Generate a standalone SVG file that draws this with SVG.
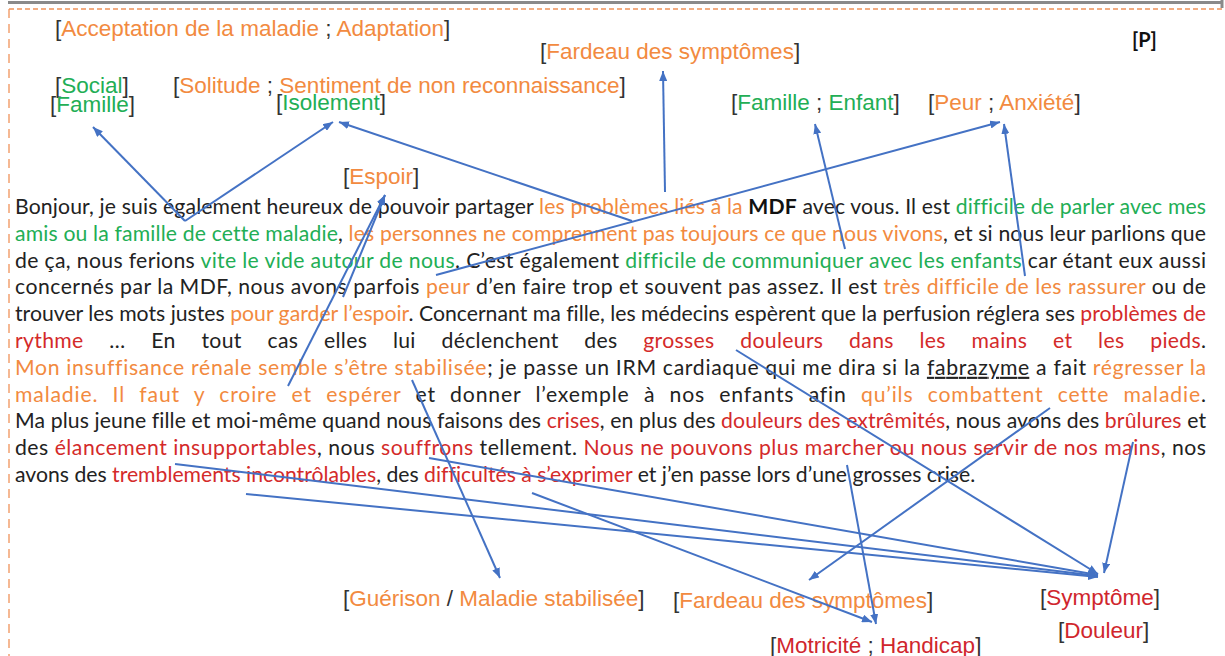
<svg xmlns="http://www.w3.org/2000/svg" width="1225" height="656" viewBox="0 0 1225 656">
<style>
.lbl{font-family:"Liberation Sans",Arial,sans-serif;font-size:22.5px;fill:#333}
.o{fill:#f28a40}
.g{fill:#22ae55}
.r{fill:#d0262d}
.par{font-family:Lato,"Liberation Sans",sans-serif;font-size:21.2px;fill:#222;font-variant-ligatures:none}
.po{fill:#f28a40}
.pg{fill:#22ae55}
.pr{fill:#d42a2a}
.conn line{stroke:#4472c4;stroke-width:2;marker-end:url(#ah)}
</style>
<defs>
<marker id="ah" markerUnits="userSpaceOnUse" markerWidth="10" markerHeight="8" refX="10" refY="4" orient="auto">
<path d="M0,0 L10,4 L0,8 z" fill="#4472c4"/>
</marker>
</defs>
<rect width="1225" height="656" fill="#ffffff"/>
<g id="frame">
<line x1="8" y1="2.5" x2="1222" y2="2.5" stroke="#8a8a8a" stroke-width="3"/>
<line x1="1222" y1="0" x2="1222" y2="8" stroke="#8a8a8a" stroke-width="3"/>
<line x1="9" y1="9" x2="1225" y2="9" stroke="#f0935a" stroke-width="1.3" stroke-dasharray="5,3"/>
<line x1="9" y1="9" x2="9" y2="656" stroke="#f0935a" stroke-width="1.3" stroke-dasharray="9,6"/>
</g>
<g id="n-acceptation"><text class="lbl" x="55" y="36">[<tspan class="o">Acceptation de la maladie</tspan> ; <tspan class="o">Adaptation</tspan>]</text></g>
<g id="n-fardeau-haut"><text class="lbl" x="540" y="59">[<tspan class="o">Fardeau des symptômes</tspan>]</text></g>
<g id="n-p"><text x="1132" y="47" font-family="Lato,'Liberation Sans',sans-serif" font-size="20" font-weight="bold" fill="#111">[P]</text></g>
<g id="n-social"><text class="lbl" x="55" y="93">[<tspan class="g">Social</tspan>]</text></g>
<g id="n-solitude"><text class="lbl" x="173" y="93">[<tspan class="o">Solitude</tspan> ; <tspan class="o">Sentiment de non reconnaissance</tspan>]</text></g>
<g id="n-famille"><text class="lbl" x="50" y="112">[<tspan class="g">Famille</tspan>]</text></g>
<g id="n-isolement"><text class="lbl" x="276" y="110">[<tspan class="g">Isolement</tspan>]</text></g>
<g id="n-famille-enfant"><text class="lbl" x="731" y="110">[<tspan class="g">Famille</tspan> ; <tspan class="g">Enfant</tspan>]</text></g>
<g id="n-peur"><text class="lbl" x="928" y="110">[<tspan class="o">Peur</tspan> ; <tspan class="o">Anxiété</tspan>]</text></g>
<g id="n-espoir"><text class="lbl" x="343" y="184">[<tspan class="o">Espoir</tspan>]</text></g>
<g id="n-guerison"><text class="lbl" x="343" y="606">[<tspan class="o">Guérison</tspan> / <tspan class="o">Maladie stabilisée</tspan>]</text></g>
<g id="n-fardeau-bas"><text class="lbl" x="673" y="608">[<tspan class="o">Fardeau des symptômes</tspan>]</text></g>
<g id="n-symptome"><text class="lbl" x="1040" y="605">[<tspan class="r">Symptôme</tspan>]</text></g>
<g id="n-douleur"><text class="lbl" x="1058" y="638">[<tspan class="r">Douleur</tspan>]</text></g>
<g id="n-motricite"><text class="lbl" x="770" y="653">[<tspan class="r">Motricité</tspan> ; <tspan class="r">Handicap</tspan>]</text></g>
<g id="n-temoignage" class="par">
<text x="15" y="214" textLength="1191" lengthAdjust="spacing">Bonjour, je suis également heureux de pouvoir partager <tspan class="po">les problèmes liés à la</tspan> <tspan font-weight="bold" fill="#111">MDF</tspan> avec vous. Il est <tspan class="pg">difficile de parler avec mes</tspan></text>
<text x="15" y="240.8" textLength="1191" lengthAdjust="spacing"><tspan class="pg">amis ou la famille de cette maladie</tspan>, <tspan class="po">les personnes ne comprennent pas toujours ce que nous vivons</tspan>, et si nous leur parlions que</text>
<text x="15" y="267.6" textLength="1191" lengthAdjust="spacing">de ça, nous ferions <tspan class="pg">vite le vide autour de nous</tspan>. C’est également <tspan class="pg">difficile de communiquer avec les enfants</tspan> car étant eux aussi</text>
<text x="15" y="294.4" textLength="1191" lengthAdjust="spacing">concernés par la MDF, nous avons parfois <tspan class="po">peur</tspan> d’en faire trop et souvent pas assez. Il est <tspan class="po">très difficile de les rassurer</tspan> ou de</text>
<text x="15" y="321.2" textLength="1191" lengthAdjust="spacing">trouver les mots justes <tspan class="po">pour garder l’espoir</tspan>. Concernant ma fille, les médecins espèrent que la perfusion réglera ses <tspan class="pr">problèmes de</tspan></text>
<text x="15" y="348" textLength="1191" lengthAdjust="spacing" word-spacing="20"><tspan class="pr">rythme</tspan> … En tout cas elles lui déclenchent des <tspan class="pr">grosses douleurs dans les mains et les pieds</tspan>.</text>
<text x="15" y="374.8" textLength="1191" lengthAdjust="spacing"><tspan class="po">Mon insuffisance rénale semble s’être stabilisée</tspan>; je passe un IRM cardiaque qui me dira si la <tspan text-decoration="underline">fabrazyme</tspan> a fait <tspan class="po">régresser la</tspan></text>
<text x="15" y="401.6" textLength="1191" lengthAdjust="spacing" word-spacing="8"><tspan class="po">maladie. Il faut y croire et espérer</tspan> et donner l’exemple à nos enfants afin <tspan class="po">qu’ils combattent cette maladie</tspan>.</text>
<text x="15" y="428.4" textLength="1191" lengthAdjust="spacing">Ma plus jeune fille et moi-même quand nous faisons des <tspan class="pr">crises</tspan>, en plus des <tspan class="pr">douleurs des extrêmités</tspan>, nous avons des <tspan class="pr">brûlures</tspan> et</text>
<text x="15" y="455.2" textLength="1191" lengthAdjust="spacing">des <tspan class="pr">élancement insupportables</tspan>, nous <tspan class="pr">souffrons</tspan> tellement. <tspan class="pr">Nous ne pouvons plus marcher ou nous servir de nos mains</tspan>, nos</text>
<text x="15" y="482">avons des <tspan class="pr">tremblements incontrôlables</tspan>, des <tspan class="pr">difficultés à s’exprimer</tspan> et j’en passe lors d’une grosses crise.</text>
</g>
<g id="connecteurs" class="conn">
<line x1="185" y1="221" x2="93" y2="127"/>
<line x1="185" y1="221" x2="333" y2="122"/>
<line x1="632" y1="221" x2="339" y2="122"/>
<line x1="665" y1="192" x2="663" y2="71"/>
<line x1="343" y1="297" x2="385" y2="195"/>
<line x1="288" y1="386" x2="385" y2="195"/>
<line x1="436" y1="275" x2="1000" y2="122"/>
<line x1="1025" y1="276" x2="1004" y2="124"/>
<line x1="845" y1="249" x2="815" y2="124"/>
<line x1="412" y1="380" x2="500" y2="578"/>
<line x1="1050" y1="408" x2="809" y2="580"/>
<line x1="847" y1="465" x2="876" y2="624"/>
<line x1="532" y1="493" x2="872" y2="622"/>
<line x1="175" y1="464" x2="1098" y2="576"/>
<line x1="246" y1="494" x2="1098" y2="577"/>
<line x1="429" y1="458" x2="1098" y2="575"/>
<line x1="736" y1="350" x2="1098" y2="574"/>
<line x1="1133" y1="442" x2="1104" y2="573"/>
</g>
</svg>
